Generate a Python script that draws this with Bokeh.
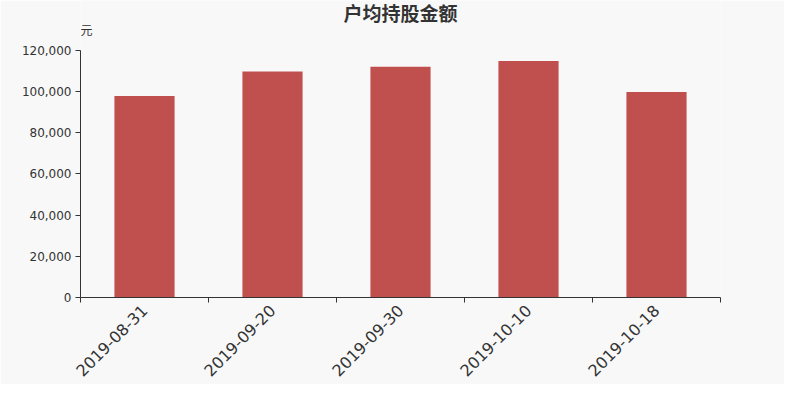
import math
from bokeh.plotting import figure
from bokeh.models import Range1d, FixedTicker, NumeralTickFormatter, LinearAxis, Label
from bokeh.embed import file_html
from bokeh.resources import INLINE

dates = ["2019-08-31", "2019-09-20", "2019-09-30", "2019-10-10", "2019-10-18"]
values = [97700, 109600, 111900, 114700, 99600]
y_ticks = [0, 20000, 40000, 60000, 80000, 100000, 120000]
title_text = "户均持股金额"
unit_text = "元"

n = len(dates)
centers = [i + 0.5 for i in range(n)]
y_max = y_ticks[-1]
px = y_max / 250.0          # data units per screen pixel (axis is 250px tall)
y_top = y_max + 50 * px     # frame extends 50px above the top tick for the titles

BG = "#f8f8f8"
TXT = "#333333"

p = figure(width=784, height=384, output_backend="svg", toolbar_location=None,
           x_range=Range1d(0, n), y_range=Range1d(0, y_top),
           min_border_left=80, min_border_right=64, min_border_top=0, min_border_bottom=84,
           x_axis_type=None, y_axis_type=None,
           background_fill_color=BG, border_fill_color=BG)
p.outline_line_color = None
p.xgrid.visible = False
p.ygrid.visible = False

p.vbar(x=centers, top=values, width=0.47, color="#c0504d", line_color=None)

xa = LinearAxis(ticker=FixedTicker(ticks=centers, minor_ticks=list(range(n + 1))))
xa.major_label_overrides = {c: d for c, d in zip(centers, dates)}
xa.major_tick_out = 0
xa.major_tick_in = 0
xa.minor_tick_out = 5
xa.minor_tick_in = 0
xa.axis_line_color = TXT
xa.minor_tick_line_color = TXT
xa.major_label_orientation = math.pi / 4
xa.major_label_text_font = "DejaVu Sans"
xa.major_label_text_font_size = "16px"
xa.major_label_text_line_height = 1.0
xa.major_label_text_color = TXT
xa.major_label_standoff = 5
p.add_layout(xa, "below")

ya = LinearAxis(ticker=FixedTicker(ticks=y_ticks, minor_ticks=[]), bounds=(0, y_max))
ya.formatter = NumeralTickFormatter(format="0,0")
ya.major_tick_out = 5
ya.major_tick_in = 0
ya.axis_line_color = TXT
ya.major_tick_line_color = TXT
ya.major_label_text_font = "DejaVu Sans"
ya.major_label_text_font_size = "12px"
ya.major_label_text_color = TXT
ya.major_label_standoff = 4
p.add_layout(ya, "left")

p.add_layout(Label(x=n / 2, y=y_max + 38 * px, text=title_text, text_align="center",
                   text_baseline="middle", text_font="Noto Sans CJK SC",
                   text_font_style="bold", text_font_size="19px", text_color=TXT))
p.add_layout(Label(x=0, y=y_max + 21 * px, text=unit_text, text_align="left",
                   text_baseline="middle", text_font="Noto Sans CJK SC",
                   text_font_size="12px", text_color=TXT))

open("out.html", "w").write(file_html(p, INLINE))
